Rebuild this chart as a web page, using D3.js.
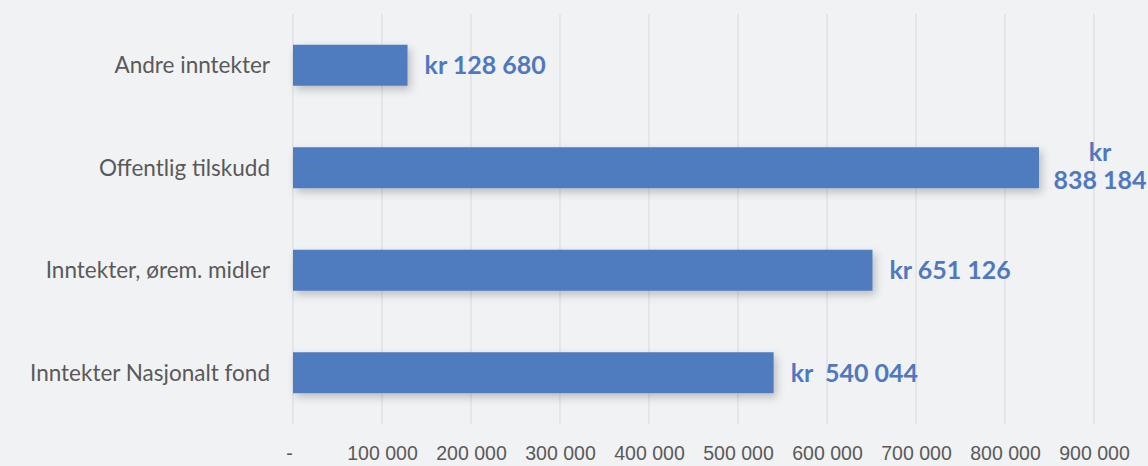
<!DOCTYPE html>
<html>
<head>
<meta charset="utf-8">
<script src="https://cdn.jsdelivr.net/npm/d3@7"></script>
<style>
  body { margin: 0; background: #f1f2f4; }
  svg { display: block; font-family: Lato, "Open Sans", sans-serif; }
  .x.axis text { font-size: 19.5px; fill: #595959; }
  .y-label { font-size: 22.5px; fill: #595959; }
  .value { font-size: 25px; font-weight: 700; fill: #4f78bf; }
</style>
</head>
<body>
<div class="bar-chart-container"></div>
<script>
// chart data
const categories = ['Andre inntekter', 'Offentlig tilskudd', 'Inntekter, ørem. midler', 'Inntekter Nasjonalt fond'];
const values = [128680, 838184, 651126, 540044];
const valueLabels = ['kr 128 680', 'kr 838 184', 'kr 651 126', 'kr  540 044'];
const xTicks = [0, 100000, 200000, 300000, 400000, 500000, 600000, 700000, 800000, 900000];
const xTickLabels = ['-', '100 000', '200 000', '300 000', '400 000', '500 000', '600 000', '700 000', '800 000', '900 000'];

const data = categories.map((c, i) => ({ name: c, value: values[i], label: valueLabels[i] }));

const W = 1148, H = 466;
const margin = { top: 14, left: 293 };

const svg = d3.select('.bar-chart-container')
  .append('svg')
  .attr('width', W)
  .attr('height', H);

// soft shadow under bars
const defs = svg.append('defs');
const f = defs.append('filter').attr('id', 'shadow')
  .attr('x', '-10%').attr('y', '-30%').attr('width', '130%').attr('height', '170%');
f.append('feDropShadow')
  .attr('dx', 3).attr('dy', 4).attr('stdDeviation', 4)
  .attr('flood-color', '#000').attr('flood-opacity', 0.22);

const chart = svg.append('g')
  .attr('transform', `translate(${margin.left}, ${margin.top})`);

const xScale = d3.scaleLinear()
  .domain([0, 900000])
  .range([0, 801]);

const yScale = d3.scaleBand()
  .domain(categories)
  .range([0, 410])
  .paddingInner(0.6)
  .paddingOuter(0.3);

// gridlines
chart.append('g')
  .attr('class', 'grid')
  .selectAll('line')
  .data(xTicks)
  .join('line')
  .attr('x1', d => xScale(d))
  .attr('x2', d => xScale(d))
  .attr('y1', 0)
  .attr('y2', 410)
  .attr('stroke', '#dcdde0')
  .attr('stroke-width', 1.2);

// x axis (labels only)
const xAxis = d3.axisBottom(xScale)
  .tickValues(xTicks)
  .tickFormat((d, i) => xTickLabels[i])
  .tickSize(0)
  .tickPadding(0);

const xAxisDraw = chart.append('g')
  .attr('class', 'x axis')
  .attr('transform', `translate(0, 410)`)
  .call(xAxis);
xAxisDraw.select('.domain').remove();
xAxisDraw.selectAll('text')
  .attr('y', 36)
  .attr('dy', 0)
  .attr('font-family', null)
  .attr('font-size', null);
xAxisDraw.selectAll('.tick').filter(d => d === 0).select('text').attr('dx', -4);

// bars
chart.selectAll('.bar')
  .data(data)
  .join('rect')
  .attr('class', 'bar')
  .attr('x', 0)
  .attr('y', d => yScale(d.name))
  .attr('width', d => xScale(d.value))
  .attr('height', yScale.bandwidth())
  .attr('fill', '#4f7bbf')
  .attr('filter', 'url(#shadow)');

// category labels
chart.selectAll('.y-label')
  .data(data)
  .join('text')
  .attr('class', 'y-label')
  .attr('x', -23)
  .attr('y', d => yScale(d.name) + yScale.bandwidth() / 2)
  .attr('dy', '0.35em')
  .attr('text-anchor', 'end')
  .text(d => d.name);

// value labels, wrapped when they would run off the edge
chart.selectAll('.value')
  .data(data)
  .join('text')
  .attr('class', 'value')
  .attr('xml:space', 'preserve')
  .each(function (d) {
    const t = d3.select(this);
    const x = xScale(d.value) + 17;
    const cy = yScale(d.name) + yScale.bandwidth() / 2;
    t.text(d.label).attr('x', x).attr('y', cy).attr('dy', '0.35em');
    if (margin.left + x + this.getComputedTextLength() > W - 4) {
      const parts = d.label.split(/ (.+)/);
      const cx = xScale(d.value) + 61;
      t.text(null).attr('text-anchor', 'middle').attr('dy', null);
      t.append('tspan').attr('x', cx).attr('y', cy - 7).text(parts[0]);
      t.append('tspan').attr('x', cx).attr('y', cy + 21).text(parts[1]);
    }
  });
</script>
</body>
</html>
